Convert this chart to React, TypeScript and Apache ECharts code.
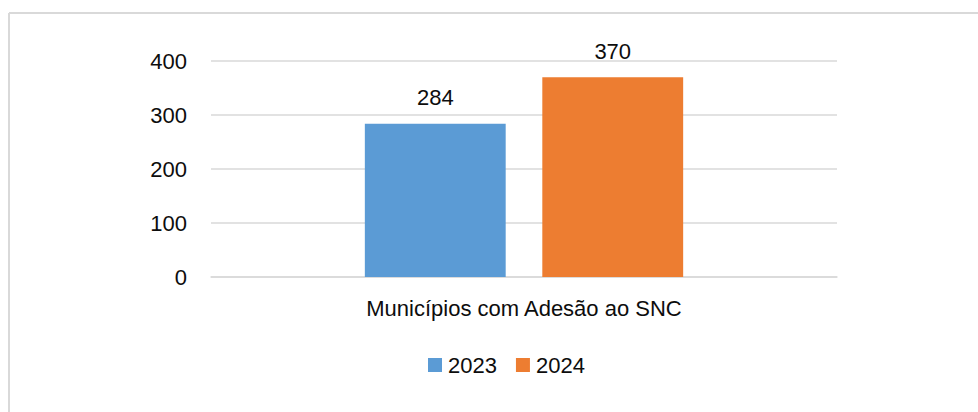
import React, { useEffect, useRef } from "react";
import * as echarts from "echarts";

const categories = ["Municípios com Adesão ao SNC"];
const seriesNames = ["2023", "2024"];
const values2023 = [284];
const values2024 = [370];
const yTicks = { min: 0, max: 400, interval: 100 };
const colors = ["#5B9BD5", "#ED7D31"];

const FONT = "'Liberation Sans', Arial, sans-serif";
const FS = 22;

export default function App() {
  const ref = useRef<HTMLDivElement>(null);
  useEffect(() => {
    document.body.style.margin = "0";
    if (!ref.current) return;
    const chart = echarts.init(ref.current, null, { renderer: "svg" });
    const labelStyle = {
      show: true,
      position: "top" as const,
      distance: 15,
      fontSize: FS,
      fontFamily: FONT,
      color: "#0d0d0d",
    };
    chart.setOption({
      animation: false,
      backgroundColor: "#ffffff",
      textStyle: { fontFamily: FONT },
      grid: { left: 211, right: 141, top: 61, bottom: 135, containLabel: false },
      legend: {
        data: seriesNames,
        left: 423,
        top: 349,
        icon: "rect",
        itemWidth: 14,
        itemHeight: 14,
        itemGap: 19,
        textStyle: { fontSize: FS, fontFamily: FONT, color: "#0d0d0d", padding: [0, 0, 0, 1] },
      },
      xAxis: {
        type: "category",
        data: categories,
        axisTick: { show: false },
        axisLine: { show: true, lineStyle: { color: "#D9D9D9", width: 1.5 } },
        axisLabel: { fontSize: FS, fontFamily: FONT, color: "#0d0d0d", margin: 20 },
      },
      yAxis: {
        type: "value",
        min: yTicks.min,
        max: yTicks.max,
        interval: yTicks.interval,
        axisLine: { show: false },
        axisTick: { show: false },
        axisLabel: { fontSize: FS, fontFamily: FONT, color: "#0d0d0d", margin: 24 },
        splitLine: { lineStyle: { color: "#D9D9D9", width: 1.5 } },
      },
      series: [
        {
          name: seriesNames[0],
          type: "bar",
          data: values2023,
          barWidth: "22.5%",
          barGap: "26%",
          itemStyle: { color: colors[0] },
          label: labelStyle,
        },
        {
          name: seriesNames[1],
          type: "bar",
          data: values2024,
          barWidth: "22.5%",
          barGap: "26%",
          itemStyle: { color: colors[1] },
          label: labelStyle,
        },
      ],
      graphic: [
        {
          type: "line",
          shape: { x1: 9, y1: 13, x2: 978, y2: 13 },
          style: { stroke: "#D9D9D9", lineWidth: 2 },
          silent: true,
        },
        {
          type: "line",
          shape: { x1: 9, y1: 13, x2: 9, y2: 412 },
          style: { stroke: "#D9D9D9", lineWidth: 2 },
          silent: true,
        },
      ],
    });
    return () => chart.dispose();
  }, []);
  return <div ref={ref} style={{ width: 978, height: 412 }} />;
}
